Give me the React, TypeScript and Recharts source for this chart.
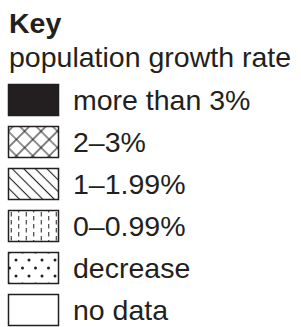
import React from 'react';
import { Bar, BarChart, Cell, LabelList, XAxis, YAxis } from 'recharts';

const TITLE = 'Key';
const SUBTITLE = 'population growth rate';
const CATEGORIES = ['more than 3%', '2–3%', '1–1.99%', '0–0.99%', 'decrease', 'no data'];
const PATTERNS = ['solid', 'crosshatch', 'diagonal', 'dashes', 'dots', 'none'];
const BOX_VALUES = [1, 1, 1, 1, 1, 1];

const INK = '#231f20';
const FONT = '"Liberation Sans", Arial, sans-serif';

const fillFor = (p: string) => {
  if (p === 'solid') return INK;
  if (p === 'none') return '#ffffff';
  return `url(#pat-${p})`;
};

const rows = CATEGORIES.map((label, i) => ({
  label,
  value: BOX_VALUES[i],
  fill: fillFor(PATTERNS[i]),
}));

const KeyLabel = (props: any) => {
  const { y, height, value } = props;
  return (
    <text x={73} y={Number(y) + Number(height) / 2 + 10} fontSize={28.5} fontFamily={FONT} fill={INK}>
      {value}
    </text>
  );
};

export default function App() {
  return (
    <div style={{ position: 'absolute', left: 0, top: 0, width: 301, height: 327, overflow: 'hidden', background: '#fff' }}>
      <BarChart
        width={301}
        height={331}
        layout="vertical"
        data={rows}
        barSize={31}
        margin={{ top: 78.5, right: 242.5, bottom: 0.5, left: 8.5 }}
      >
        <defs>
          <pattern id="pat-crosshatch" width={11.6} height={11.6} patternUnits="userSpaceOnUse" patternTransform="rotate(45)">
            <rect width={11.6} height={11.6} fill="#fff" />
            <path d="M5.8,0 V11.6 M0,5.8 H11.6" stroke={INK} strokeWidth={1.1} />
          </pattern>
          <pattern id="pat-diagonal" width={8.2} height={8.2} patternUnits="userSpaceOnUse" patternTransform="rotate(45)">
            <rect width={8.2} height={8.2} fill="#fff" />
            <path d="M0,4.1 H8.2" stroke={INK} strokeWidth={1.1} />
          </pattern>
          <pattern id="pat-dashes" width={15} height={8} patternUnits="userSpaceOnUse">
            <rect width={15} height={8} fill="#fff" />
            <path d="M3.75,0 V4.5 M11.25,4 V8.5" stroke={INK} strokeWidth={1} />
            <path d="M11.25,0 V0.5" stroke={INK} strokeWidth={1} />
          </pattern>
          <pattern id="pat-dots" width={13} height={16} patternUnits="userSpaceOnUse">
            <rect width={13} height={16} fill="#fff" />
            <circle cx={3} cy={4} r={1.5} fill={INK} />
            <circle cx={9.5} cy={12} r={1.5} fill={INK} />
          </pattern>
        </defs>
        <text x={9} y={33} fontSize={28.5} fontWeight="bold" fontFamily={FONT} fill={INK}>
          {TITLE}
        </text>
        <text x={9} y={67} fontSize={28.5} fontFamily={FONT} fill={INK}>
          {SUBTITLE}
        </text>
        <XAxis type="number" domain={[0, 1]} hide />
        <YAxis type="category" dataKey="label" hide />
        <Bar dataKey="value" stroke={INK} strokeWidth={1.5} isAnimationActive={false}>
          {rows.map((r) => (
            <Cell key={r.label} fill={r.fill} />
          ))}
          <LabelList dataKey="label" content={KeyLabel} />
        </Bar>
      </BarChart>
    </div>
  );
}
